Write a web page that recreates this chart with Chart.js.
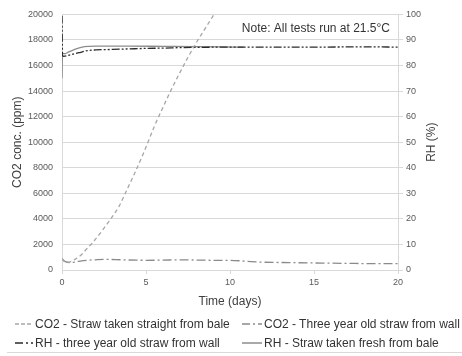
<!DOCTYPE html>
<html><head><meta charset="utf-8">
<script src="https://cdn.jsdelivr.net/npm/chart.js@4"></script>
<style>
html,body{margin:0;padding:0;background:#fff;}
#wrap{position:relative;width:462px;height:356px;overflow:hidden;font-family:"Liberation Sans",Arial,sans-serif;}
canvas{display:block;}
.li{position:absolute;height:16px;display:flex;align-items:center;font-size:12px;color:#333;white-space:nowrap;}
.li svg{margin-right:2px;}
#rule{position:absolute;left:7px;right:0;top:352px;height:1px;background:#d9d9d9;}
</style></head>
<body><div id="wrap"><canvas id="c" width="462" height="356"></canvas>
<div id="legend"></div><div id="rule"></div></div>
<script>
// ---- data ----
const xTicks = [0, 5, 10, 15, 20];
const co2BaleT = [0, 0.1, 0.3, 0.8, 1.2, 1.5, 1.8, 2.4, 2.9, 3.4, 3.8, 4.3, 4.9, 5.5, 6.0, 6.5, 7.0, 7.5, 8.0, 8.5, 9.05];
const co2BaleV = [900, 700, 600, 850, 1250, 1700, 2100, 3100, 4000, 5000, 6100, 7500, 9300, 11250, 12700, 14100, 15400, 16650, 17800, 18850, 20000];
const co2WallT = [0, 0.2, 0.5, 1.0, 1.5, 2.0, 2.6, 3.5, 5.0, 6.0, 7.0, 8.0, 9.0, 10.0, 11.0, 12.0, 13.5, 15.0, 17.0, 18.5, 20.0];
const co2WallV = [880, 650, 580, 680, 760, 800, 830, 800, 760, 770, 800, 780, 760, 760, 680, 610, 580, 550, 520, 500, 500];
const rhWallT = [0, 0.03, 0.1, 0.5, 1.0, 1.5, 2.0, 3.0, 4.0, 5.0, 6.0, 7.0, 8.0, 10.0, 12.0, 15.0, 18.0, 20.0];
const rhWallV = [99.5, 84, 83.6, 84.2, 85.0, 85.8, 86.1, 86.3, 86.5, 86.7, 86.8, 87.0, 87.1, 87.2, 87.2, 87.2, 87.3, 87.2];
const rhFreshT = [0, 0.03, 0.15, 0.4, 0.8, 1.2, 1.6, 2.0, 4.0, 6.0, 8.0, 9.5, 10.8];
const rhFreshV = [75, 84.8, 84.6, 85.3, 86.4, 87.2, 87.5, 87.6, 87.6, 87.5, 87.4, 87.3, 87.2];
const seriesNames = ['CO2 - Straw taken straight from bale', 'CO2 - Three year old straw from wall',
  'RH - three year old straw from wall', 'RH - Straw taken fresh from bale'];
const noteText = 'Note: All tests run at 21.5°C';

const pts = (t, v) => t.map((x, i) => ({x: x, y: v[i]}));
const FONT = '"Liberation Sans", Arial, sans-serif';

const styles = [
  {color: '#a6a6a6', dash: [4, 3], axis: 'y', legendDash: '4,2'},
  {color: '#8a8a8a', dash: [9, 3, 2, 3], axis: 'y', legendDash: '8,3,2,3'},
  {color: '#2b2b2b', dash: [8, 2, 2, 2, 2, 2], axis: 'y1', legendDash: '8,3,2,3,2,3'},
  {color: '#8c8c8c', dash: [], axis: 'y1', legendDash: ''}
];
const dataSets = [pts(co2BaleT, co2BaleV), pts(co2WallT, co2WallV), pts(rhWallT, rhWallV), pts(rhFreshT, rhFreshV)];

const extras = {
  id: 'extras',
  afterDraw(chart) {
    const ctx = chart.ctx, a = chart.chartArea;
    ctx.save();
    ctx.fillStyle = '#333';
    ctx.font = '12px ' + FONT;
    ctx.textAlign = 'right';
    ctx.textBaseline = 'middle';
    ctx.fillText(noteText, a.right - 8, 29);
    ctx.translate(432, (a.top + a.bottom) / 2);
    ctx.rotate(-Math.PI / 2);
    ctx.textAlign = 'center';
    ctx.fillStyle = '#404040';
    ctx.fillText('RH (%)', 0, 0);
    ctx.restore();
  }
};

const plain = v => String(v);

new Chart(document.getElementById('c'), {
  type: 'line',
  data: {
    datasets: dataSets.map((d, i) => ({
      label: seriesNames[i], data: d, yAxisID: styles[i].axis,
      borderColor: styles[i].color, borderDash: styles[i].dash, borderWidth: 1.3,
      pointRadius: 0, fill: false, tension: 0.3, cubicInterpolationMode: 'monotone'
    }))
  },
  options: {
    responsive: false, animation: false, parsing: true,
    layout: {padding: {top: 14, left: 6, right: 0, bottom: 43}},
    plugins: {legend: {display: false}, tooltip: {enabled: false}},
    scales: {
      x: {
        type: 'linear', min: 0, max: 20,
        afterBuildTicks: s => { s.ticks = xTicks.map(v => ({value: v})); },
        afterFit: s => { s.height = 43; },
        grid: {drawOnChartArea: false, drawTicks: true, tickLength: 4, color: '#d9d9d9'},
        border: {color: '#d9d9d9'},
        ticks: {font: {size: 9, family: FONT}, color: '#595959', padding: 3, maxRotation: 0, callback: plain},
        title: {display: true, text: 'Time (days)', font: {size: 12, family: FONT}, color: '#404040', padding: {top: 4, bottom: 4}}
      },
      y: {
        position: 'left', min: 0, max: 20000,
        afterFit: s => { s.width = 56; },
        grid: {color: '#d9d9d9', drawTicks: false},
        border: {color: '#d9d9d9'},
        ticks: {stepSize: 2000, font: {size: 9, family: FONT}, color: '#595959', padding: 9, callback: plain},
        title: {display: true, text: 'CO2 conc. (ppm)', font: {size: 12, family: FONT}, color: '#404040', padding: {top: 4, bottom: 4}}
      },
      y1: {
        position: 'right', min: 0, max: 100,
        afterFit: s => { s.width = 64; },
        grid: {drawOnChartArea: false, drawTicks: true, tickLength: 5, color: '#d9d9d9'},
        border: {color: '#d9d9d9'},
        ticks: {stepSize: 10, font: {size: 9, family: FONT}, color: '#595959', padding: 3, callback: plain}
      }
    }
  },
  plugins: [extras]
});

// ---- HTML legend ----
const legendPos = [[15, 324], [242, 324], [15, 343], [242, 343]];
const lg = document.getElementById('legend');
seriesNames.forEach((name, i) => {
  const d = document.createElement('div');
  d.className = 'li';
  d.style.left = legendPos[i][0] + 'px';
  d.style.top = (legendPos[i][1] - 8) + 'px';
  const w = i % 2 === 0 ? 18 : 20;
  d.innerHTML = '<svg width="' + w + '" height="10"><line x1="0" y1="5" x2="' + w + '" y2="5" stroke="' + styles[i].color +
    '" stroke-width="1.5"' + (styles[i].legendDash ? ' stroke-dasharray="' + styles[i].legendDash + '"' : '') + '/></svg>';
  const s = document.createElement('span');
  s.textContent = name;
  d.appendChild(s);
  lg.appendChild(d);
});
</script>
</body></html>
